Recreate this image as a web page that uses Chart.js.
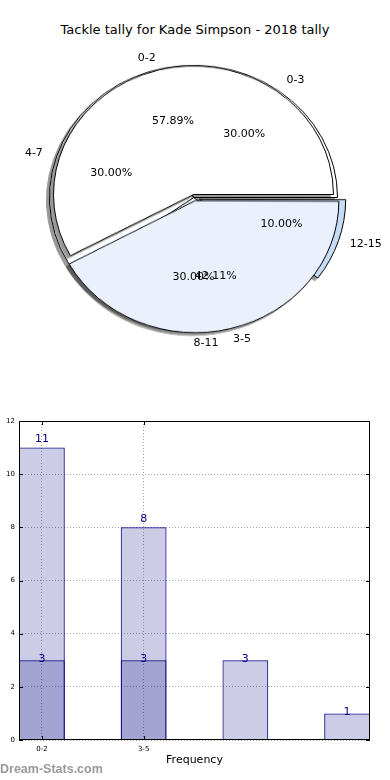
<!DOCTYPE html>
<html>
<head>
<meta charset="utf-8">
<script src="https://cdn.jsdelivr.net/npm/chart.js@4.4.1/dist/chart.umd.min.js"></script>
<style>
body { margin: 0; width: 390px; height: 780px; position: relative; background: #fff; overflow: hidden; font-family: "DejaVu Sans", sans-serif; }
#title { position: absolute; top: 22px; left: 0; width: 390px; text-align: center; font-size: 13px; color: #000; }
.pie { position: absolute; left: 0; top: 0; transform: scaleY(0.918); transform-origin: 193.5px 194.5px; filter: drop-shadow(-3px 3px 0 rgba(0,0,0,0.4)); }
#pie2 { top: 3px; }
#pieLabels { position: absolute; left: 0; top: 0; }
#barChart { position: absolute; left: 0; top: 400px; }
#mark { position: absolute; left: 0; top: 762px; font-family: "Liberation Sans", sans-serif; font-size: 12.5px; font-weight: bold; color: #999; }
</style>
</head>
<body>
<div id="title">Tackle tally for Kade Simpson - 2018 tally</div>
<canvas id="pie2" class="pie" width="387" height="389"></canvas>
<canvas id="pie1" class="pie" width="387" height="389"></canvas>
<canvas id="pieLabels" width="390" height="400"></canvas>
<canvas id="barChart" width="390" height="380"></canvas>
<div id="mark">Dream-Stats.com</div>
<script>
// pie 1 - ranges 0-2 / 3-5
const pie1Labels = ["0-2", "3-5"];
const pie1Values = [11, 8];
const pie1Colors = ["#ffffff", "#ebf1fc"];
const pie1Explode = [0, 7];

// pie 2 - ranges by four
const pie2Labels = ["0-3", "4-7", "8-11", "12-15"];
const pie2Values = [3, 3, 3, 1];
const pie2Colors = ["#ffffff", "#ffffff", "#ebf1fc", "#c6dbf5"];
const pie2Explode = [0, 0, 0, 6];

// bar chart
const tickLabels = ["0-2", "3-5"];
const barTotals = [11, 8, 3, 1];
const barLower = [3, 3];

const SY = 0.918, CY = 194.5;
const labelCtx = document.getElementById("pieLabels").getContext("2d");

// matplotlib draws counter-clockwise from 3 o'clock, chart.js clockwise -> reverse order
function rev(a) { return a.slice().reverse(); }

function pieLabelPlugin(labels, values, explode, dy) {
    return {
        id: "pieText",
        afterDraw(chart) {
            const arcs = chart.getDatasetMeta(0).data;
            const total = values.reduce((a, b) => a + b, 0);
            const n = labels.length;
            labelCtx.save();
            labelCtx.font = "11px 'DejaVu Sans'";
            labelCtx.fillStyle = "#000";
            labelCtx.textBaseline = "middle";
            arcs.forEach(function(arc, j) {
                const i = n - 1 - j;
                const p = arc.getProps(["x", "y", "startAngle", "endAngle", "outerRadius"], true);
                const mid = (p.startAngle + p.endAngle) / 2;
                const c = Math.cos(mid), s = Math.sin(mid);
                const e = explode[i];
                const r = p.outerRadius;
                // category label
                let lx = p.x + c * (1.1 * r + e);
                let ly = CY + (p.y + s * (1.1 * r + e) - CY) * SY + dy;
                labelCtx.textAlign = c > -0.01 ? "left" : "right";
                labelCtx.fillText(labels[i], lx, ly);
                // percentage
                lx = p.x + c * (0.6 * r + e);
                ly = CY + (p.y + s * (0.6 * r + e) - CY) * SY + dy;
                labelCtx.textAlign = "center";
                labelCtx.fillText((values[i] / total * 100).toFixed(2) + "%", lx, ly);
            });
            labelCtx.restore();
        }
    };
}

function makePie(id, labels, values, colors, explode, radius, dy) {
    return new Chart(document.getElementById(id), {
        type: "pie",
        data: {
            labels: rev(labels),
            datasets: [{
                data: rev(values),
                backgroundColor: rev(colors),
                borderColor: "#000",
                borderWidth: 1,
                offset: rev(explode).map(e => e * 4)
            }]
        },
        options: {
            responsive: false,
            animation: false,
            rotation: 90,
            radius: radius,
            plugins: { legend: { display: false }, tooltip: { enabled: false } }
        },
        plugins: [pieLabelPlugin(labels, values, explode, dy)]
    });
}

makePie("pie2", pie2Labels, pie2Values, pie2Colors, pie2Explode, 144, 3.5);
makePie("pie1", pie1Labels, pie1Values, pie1Colors, pie1Explode, 140, 1);

const framePlugin = {
    id: "frame",
    afterDatasetsDraw(chart) {
        const ctx = chart.ctx, a = chart.chartArea;
        const xs = chart.scales.x, ys = chart.scales.y;
        ctx.save();
        ctx.strokeStyle = "#000";
        ctx.lineWidth = 1;
        ctx.strokeRect(a.left + 0.5, a.top + 0.5, a.right - a.left - 1, a.bottom - a.top - 1);
        ctx.beginPath();
        ys.ticks.forEach(function(t) {
            const y = Math.round(ys.getPixelForValue(t.value)) + 0.5;
            ctx.moveTo(a.left, y); ctx.lineTo(a.left + 4, y);
            ctx.moveTo(a.right, y); ctx.lineTo(a.right - 4, y);
        });
        xs.ticks.forEach(function(t) {
            const x = Math.round(xs.getPixelForValue(t.value)) + 0.5;
            ctx.moveTo(x, a.bottom); ctx.lineTo(x, a.bottom - 4);
            ctx.moveTo(x, a.top); ctx.lineTo(x, a.top + 4);
        });
        ctx.stroke();
        // value labels
        ctx.fillStyle = "#000080";
        ctx.font = "11px 'DejaVu Sans'";
        ctx.textAlign = "center";
        ctx.textBaseline = "middle";
        chart.data.datasets.forEach(function(ds, di) {
            chart.getDatasetMeta(di).data.forEach(function(bar, k) {
                const v = ds.data[k].y;
                const off = v > 4 ? 8 : 1.5;
                ctx.fillText(String(v), bar.x, bar.y - off);
            });
        });
        ctx.restore();
    }
};

new Chart(document.getElementById("barChart"), {
    type: "bar",
    data: {
        datasets: [
            {
                data: barLower.map((v, i) => ({ x: i, y: v })),
                backgroundColor: "rgba(0,0,128,0.2)",
                borderColor: "#000080",
                borderWidth: 1,
                grouped: false,
                barPercentage: 0.45,
                categoryPercentage: 1
            },
            {
                data: barTotals.map((v, i) => ({ x: i, y: v })),
                backgroundColor: "rgba(0,0,128,0.2)",
                borderColor: "#000080",
                borderWidth: 1,
                grouped: false,
                barPercentage: 0.45,
                categoryPercentage: 1
            }
        ]
    },
    options: {
        responsive: false,
        animation: false,
        layout: { padding: { top: 21, right: 20, left: 0, bottom: 0 } },
        plugins: { legend: { display: false }, tooltip: { enabled: false } },
        scales: {
            x: {
                type: "linear",
                min: -0.225,
                max: 3.225,
                offset: false,
                afterBuildTicks: function(axis) {
                    axis.ticks = tickLabels.map((_, i) => ({ value: i }));
                },
                afterFit: function(scale) { scale.height = 40; },
                ticks: {
                    callback: v => tickLabels[v] || "",
                    font: { size: 7, family: "DejaVu Sans" },
                    color: "#000",
                    padding: 5,
                    maxRotation: 0
                },
                grid: { color: "#a8a8a8", drawTicks: false, offset: false },
                border: { display: false, dash: [1, 2] },
                title: {
                    display: true,
                    text: "Frequency",
                    color: "#000",
                    font: { size: 11, family: "DejaVu Sans" },
                    padding: { top: 0, bottom: 13 }
                }
            },
            y: {
                min: 0,
                max: 12,
                afterFit: function(scale) { scale.width = 19; },
                ticks: {
                    stepSize: 2,
                    font: { size: 7, family: "DejaVu Sans" },
                    color: "#000",
                    padding: 4
                },
                grid: { color: "#a8a8a8", drawTicks: false },
                border: { display: false, dash: [1, 2] }
            }
        }
    },
    plugins: [framePlugin]
});
</script>
</body>
</html>
